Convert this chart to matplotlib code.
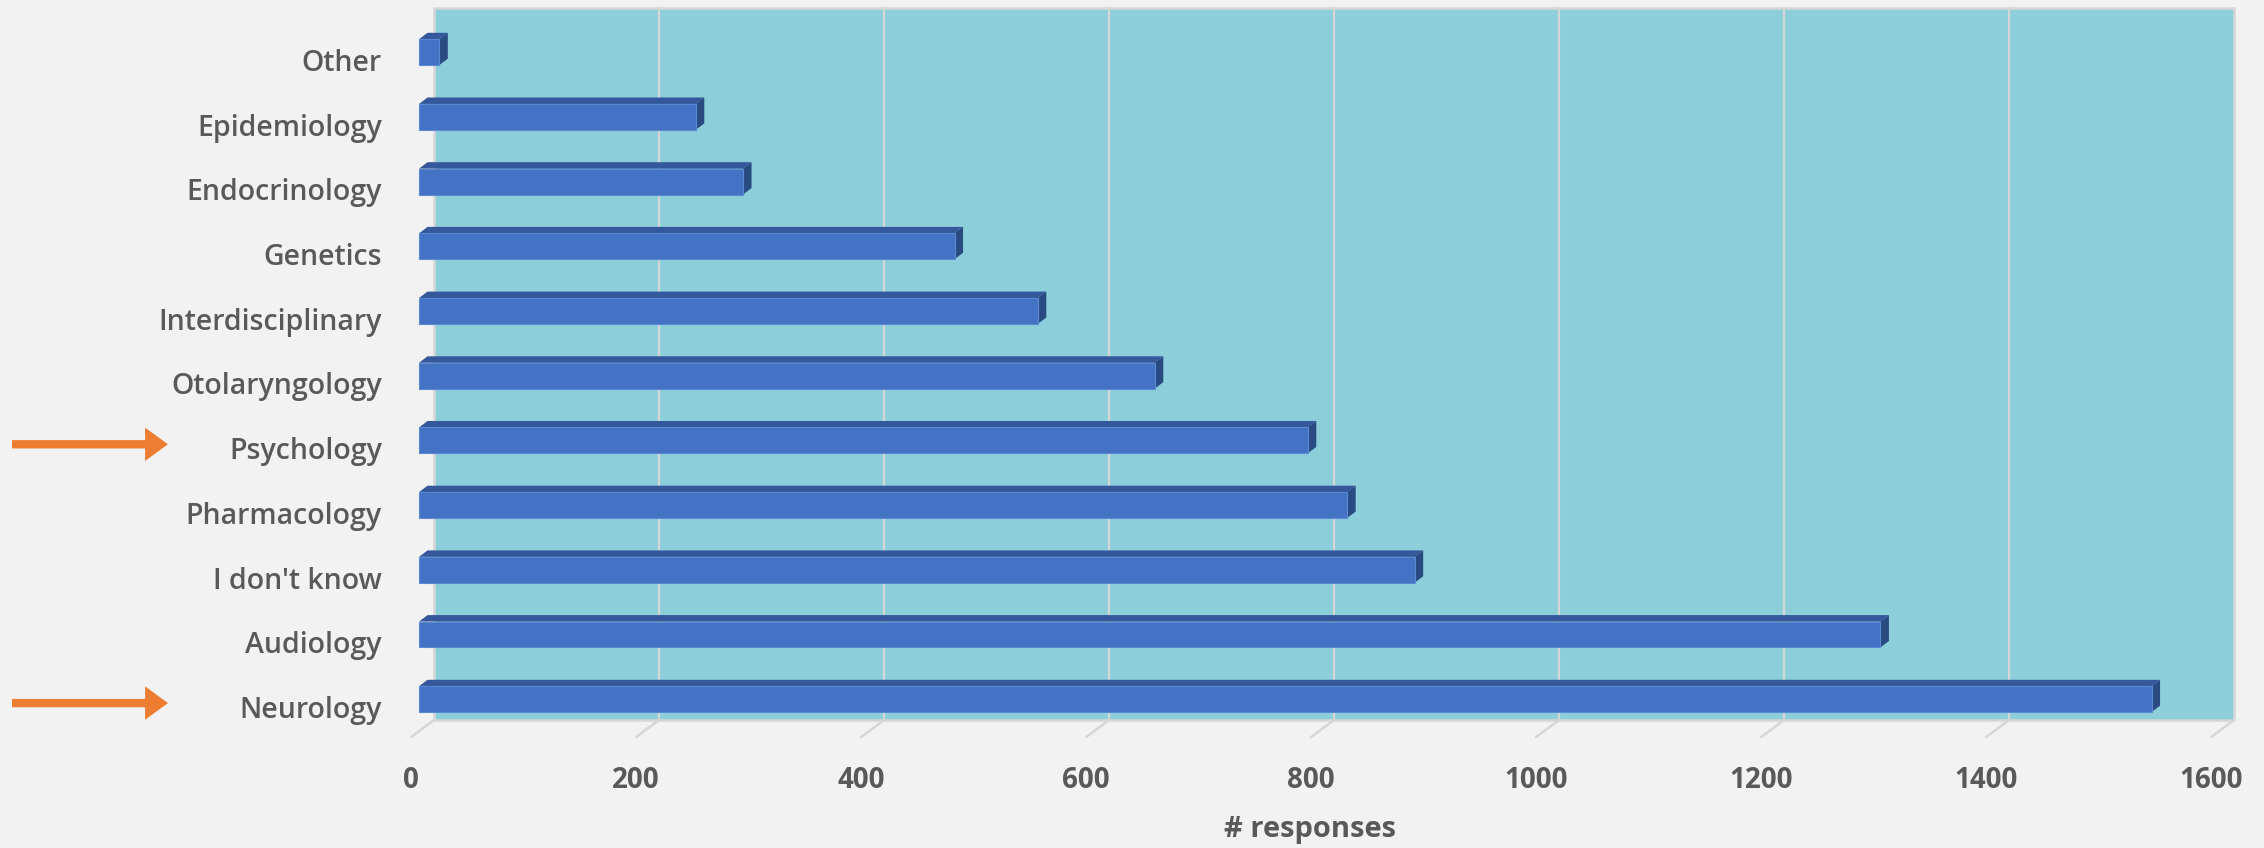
import matplotlib
matplotlib.use("Agg")
import matplotlib.pyplot as plt
from matplotlib.patches import Polygon, Rectangle, FancyArrowPatch
from matplotlib.transforms import blended_transform_factory

# Survey: fields of respondents
categories = ["Neurology", "Audiology", "I don't know", "Pharmacology", "Psychology",
              "Otolaryngology", "Interdisciplinary", "Genetics", "Endocrinology",
              "Epidemiology", "Other"]
responses = [1540, 1299, 885, 825, 790, 654, 550, 476, 288, 246, 18]
highlighted = ["Neurology", "Psychology"]
x_ticks = [0, 200, 400, 600, 800, 1000, 1200, 1400, 1600]
x_title = "# responses"

BG = "#F2F2F2"
WALL = "#8CCFDB"
GRID = "#D6D6D6"
FRONT = "#4472C4"
TOP = "#34589B"
SIDE = "#2A4A82"
EDGE = "#5B8AD3"
TEXT = "#595959"
ARROW = "#ED7D31"

W, H, DPI = 2264, 848, 100
fig = plt.figure(figsize=(W / DPI, H / DPI), dpi=DPI, facecolor=BG)
ax = fig.add_axes([419 / W, 1 - 731.55 / H, 1800 / W, 711.7 / H])
ax.set_xlim(0, 1600)
ax.set_ylim(-0.5, 10.5)
ax.set_facecolor("none")
ax.set_axis_off()

# oblique 3-D offsets (data units)
wall_dx, wall_dy = 13.5, 0.18     # back wall relative to bar fronts
floor_dx, floor_dy = -7.0, -0.085  # floor front edge relative to bar fronts
depth_dx, depth_dy = 7.6, 0.10    # bar depth
bar_h = 0.40

# back wall
x0, x1 = 0 + wall_dx, 1600 + wall_dx
y0, y1 = -0.5 + wall_dy, 10.5 + wall_dy
ax.add_patch(Rectangle((x0, y0), x1 - x0, y1 - y0, facecolor=WALL,
                       edgecolor=GRID, linewidth=1.8, clip_on=False, zorder=1))
for t in x_ticks[1:-1]:
    ax.plot([t + wall_dx, t + wall_dx], [y0, y1], color=GRID, lw=1.6,
            clip_on=False, zorder=2)

# floor tick marks and labels
for t in x_ticks:
    ax.plot([t + wall_dx, t + floor_dx], [y0, -0.5 + floor_dy],
            color=GRID, lw=1.8, clip_on=False, zorder=2, solid_capstyle="round")
    ax.text(t + floor_dx, -1.372, f"{t}", ha="center", va="baseline",
            fontsize=20, fontweight="bold", family="Open Sans", color=TEXT)

ax.text(0.495, -2.13, x_title, transform=blended_transform_factory(ax.transAxes, ax.transData),
        ha="center", va="baseline", fontsize=21, fontweight="bold",
        family="Open Sans", color=TEXT)

# 3-D bars
for i, (cat, v) in enumerate(zip(categories, responses)):
    yb, yt = i - bar_h / 2, i + bar_h / 2
    top = [(0, yt), (v, yt), (v + depth_dx, yt + depth_dy), (depth_dx, yt + depth_dy)]
    side = [(v, yb), (v + depth_dx, yb + depth_dy), (v + depth_dx, yt + depth_dy), (v, yt)]
    ax.add_patch(Polygon(top, closed=True, facecolor=TOP, edgecolor="none",
                         clip_on=False, zorder=3))
    ax.add_patch(Polygon(side, closed=True, facecolor=SIDE, edgecolor="none",
                         clip_on=False, zorder=3))
    ax.barh(i, v, height=bar_h, color=FRONT, edgecolor=EDGE, linewidth=0.8,
            zorder=4, clip_on=False)
    ax.text(-33, i - 0.29, cat, ha="right", va="baseline", fontsize=20.5,
            fontweight="semibold", family="Open Sans", color=TEXT)

# arrows pointing at highlighted categories
arrow_tr = blended_transform_factory(fig.transFigure, ax.transData)
for cat in highlighted:
    i = categories.index(cat)
    arr = FancyArrowPatch((12 / W, i - 0.06), (168 / W, i - 0.06),
                          transform=arrow_tr,
                          arrowstyle="simple,head_length=16.5,head_width=24,tail_width=6",
                          mutation_scale=1, color=ARROW, linewidth=0,
                          shrinkA=0, shrinkB=0, clip_on=False)
    fig.add_artist(arr)

fig.savefig("out.png", dpi=DPI, facecolor=BG)
